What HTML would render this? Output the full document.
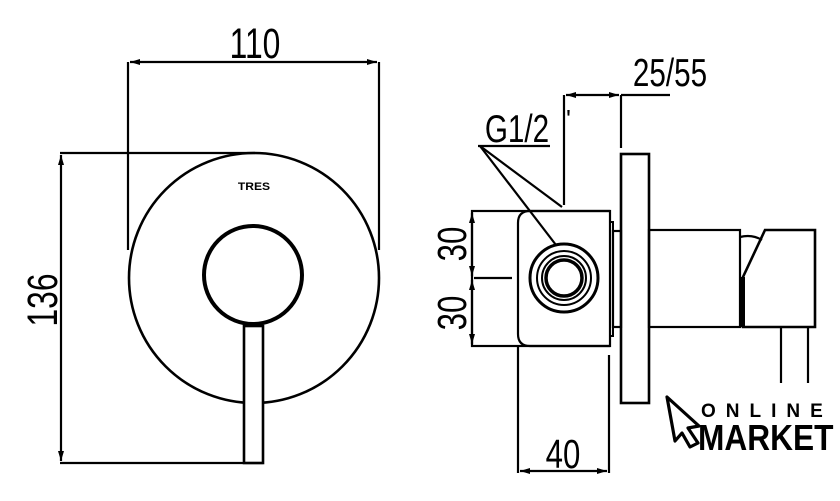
<!DOCTYPE html>
<html><head><style>
html,body{margin:0;padding:0;background:#fff;}
svg{display:block;}
text{font-family:"Liberation Sans",sans-serif;}
</style></head><body>
<svg width="840" height="501" viewBox="0 0 840 501" xmlns="http://www.w3.org/2000/svg">
<defs>
<marker id="a" markerWidth="10" markerHeight="8" refX="10" refY="4" orient="auto-start-reverse" markerUnits="userSpaceOnUse">
<path d="M0,1 L10,4 L0,7 Z" fill="#000"/></marker>
</defs>
<g fill="none" stroke="#000" stroke-width="2.2">
<line x1="128" y1="62" x2="128" y2="250"/>
<line x1="379" y1="62" x2="379" y2="250"/>
<line x1="130" y1="62" x2="377" y2="62" marker-start="url(#a)" marker-end="url(#a)"/>
<line x1="60" y1="153" x2="255" y2="153"/>
<line x1="60" y1="463" x2="263" y2="463"/>
<line x1="61" y1="155" x2="61" y2="461" marker-start="url(#a)" marker-end="url(#a)"/>
<circle cx="254" cy="278" r="125" stroke-width="2.6"/>
<circle cx="253" cy="275" r="49" stroke-width="4"/>
<rect x="244" y="326" width="19" height="137" fill="#fff" stroke-width="2.6"/>
<rect x="472" y="211" width="138" height="135"/>
<path d="M610,211 H530 Q518,211 518,223 V334 Q518,346 530,346 H610" />
<rect x="610" y="222" width="3" height="114" stroke-width="2"/>
<rect x="613" y="231" width="8" height="96"/>
<rect x="621" y="154" width="28" height="249" stroke-width="2.6"/>
<rect x="649" y="230" width="91" height="97"/>
<path d="M740,237 Q752,234 762,240"/>
<path d="M765,230 H815 V327 H743 V277 Z" stroke-width="2.6"/>
<line x1="743" y1="277" x2="743" y2="327" stroke-width="4"/>
<line x1="781" y1="327" x2="781" y2="383"/>
<line x1="808" y1="327" x2="808" y2="383"/>
<circle cx="564" cy="278" r="34" stroke-width="3"/>
<circle cx="564" cy="278" r="27" stroke-width="2"/>
<circle cx="564" cy="278" r="22" stroke-width="2"/>
<circle cx="564" cy="278" r="18" stroke-width="3.5"/>
<line x1="472" y1="213" x2="472" y2="276" marker-start="url(#a)" marker-end="url(#a)"/>
<line x1="472" y1="280" x2="472" y2="344" marker-start="url(#a)" marker-end="url(#a)"/>
<line x1="474" y1="278" x2="512" y2="278"/>
<line x1="518" y1="346" x2="518" y2="473"/>
<line x1="609" y1="355" x2="609" y2="473"/>
<line x1="520" y1="471" x2="607" y2="471" marker-start="url(#a)" marker-end="url(#a)"/>
<line x1="564" y1="95" x2="564" y2="205"/>
<line x1="621" y1="95" x2="621" y2="148"/>
<line x1="566" y1="95" x2="619" y2="95" marker-start="url(#a)" marker-end="url(#a)"/>
<line x1="621" y1="95" x2="670" y2="95"/>
<line x1="478" y1="146" x2="550" y2="146"/>
<line x1="480" y1="146" x2="562" y2="207"/>
<line x1="480" y1="146" x2="556" y2="245"/>
</g>
<text x="0" y="0" font-size="43" text-anchor="middle" transform="translate(255,58) scale(0.74,1)">110</text>
<text x="0" y="0" font-size="43" text-anchor="middle" transform="translate(57,300) rotate(-90) scale(0.74,1)">136</text>
<text x="0" y="0" font-size="41" text-anchor="middle" transform="translate(466,244) rotate(-90) scale(0.76,1)">30</text>
<text x="0" y="0" font-size="41" text-anchor="middle" transform="translate(466,313) rotate(-90) scale(0.76,1)">30</text>
<text x="0" y="0" font-size="41" text-anchor="middle" transform="translate(563,468) scale(0.76,1)">40</text>
<text x="0" y="0" font-size="39" text-anchor="middle" transform="translate(670,86) scale(0.76,1)">25/55</text>
<text x="0" y="0" font-size="39" text-anchor="middle" transform="translate(517,142) scale(0.76,1)">G1/2</text>
<text x="566" y="128" font-size="26">'</text>
<text x="0" y="0" font-size="11" font-weight="bold" text-anchor="middle" transform="translate(254,190) scale(1.1,1)">TRES</text>
<path d="M667,397 L699,426 L688,428 L698,443 L690,447 L682,433 L675,441 Z" fill="none" stroke="#000" stroke-width="3.2" stroke-linejoin="round"/>
<text x="701" y="417" font-size="19" font-weight="bold" letter-spacing="10">ONLINE</text>
<text x="0" y="0" font-size="36" font-weight="bold" transform="translate(698,450) scale(0.88,1)">MARKET</text>
</svg>
</body></html>
